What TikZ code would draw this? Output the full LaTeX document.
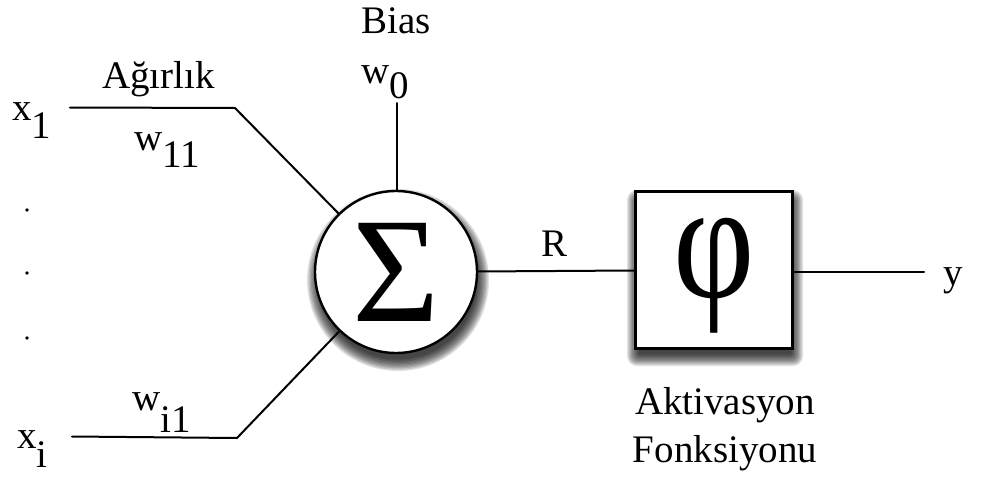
\documentclass[tikz,border=0pt]{standalone}
\usepackage{fontspec}
\setmainfont{Liberation Serif}
\usetikzlibrary{backgrounds}
% index set at full size, dropped below the baseline
\newcommand{\lowered}[2]{\raisebox{-#1pt}{#2}}
\begin{document}
\begin{tikzpicture}[x=1pt,y=-1pt,
  lbl/.style={inner sep=0pt, anchor=base west, font=\fontsize{39}{48}\selectfont},
  wire/.style={line width=2pt, line cap=round},
  dotmark/.style={circle, fill=black, inner sep=0pt, minimum size=3.6pt},
  sumnode/.style={circle, draw, line width=2.4pt, fill=white, inner sep=0pt,
    minimum size=162pt, font=\fontsize{150}{150}\selectfont},
  actbox/.style={rectangle, draw, line width=2.4pt, fill=white, inner sep=0pt,
    minimum size=157pt},
  shade layer/.style={fill=black, opacity=0.12},
]
\useasboundingbox (0,0) rectangle (994,477);

% summation unit and activation box
\node[sumnode] (S) at (396,272) {Σ};
\node[actbox] (F) at (714,270) {};
\node[inner sep=0pt, font=\fontsize{168}{168}\selectfont] (phi) at (714.5,276)
  {\scalebox{0.84}[1]{φ}};

% soft drop shadows under the circle and the box
\begin{scope}[on background layer]
  \foreach \k in {0,...,9} {
    \fill[shade layer] ([shift={(2,8)}]S.center) circle ({91-1.3*\k});
    \fill[shade layer, rounded corners={10-\k}]
      ([shift={(1,8)}]F.center) ++({-88+1.3*\k},{-88+1.3*\k})
      rectangle ++({176-2.6*\k},{176-2.6*\k});
  }
\end{scope}

% input x_1
\node[lbl] (x1) at (12,120) {x\lowered{18}{1}};
\coordinate (a1) at (70,107.5);
\coordinate (b1) at (235,108);
\draw[wire] (a1) -- (b1) -- (S);
\node[lbl] (ag) at (102,88) {Ağırlık};
\node[lbl] (w11) at (134,150) {w\lowered{17}{11}};

% elided inputs
\node[dotmark] (d1) at (27,210) {};
\node[dotmark] (d2) at (27,273) {};
\node[dotmark] (d3) at (27,338) {};

% input x_i
\node[lbl] (xi) at (17,448) {x\lowered{19}{i}};
\coordinate (ai) at (72,436.5);
\coordinate (bi) at (237,438);
\draw[wire] (ai) -- (bi) -- (S);
\node[lbl] (wi1) at (132,410) {w\lowered{22}{i1}};

% bias
\node[lbl] (bias) at (361,33) {Bias};
\node[lbl] (w0) at (361,83) {w\lowered{15}{0}};
\coordinate (bt) at (397,103);
\draw[wire] (bt) -- (S.north -| bt);

% net input R into the activation, output y
\draw[wire] (S) -- (F);
\node[lbl] (R) at (541,256) {R};
\coordinate (ye) at (924,272);
\draw[wire] (F.east |- ye) -- (ye);
\node[lbl] (y) at (943,285) {y};

\node[lbl, anchor=base, align=center] (act) at (725,462) {Aktivasyon\\Fonksiyonu};
\end{tikzpicture}
\end{document}
